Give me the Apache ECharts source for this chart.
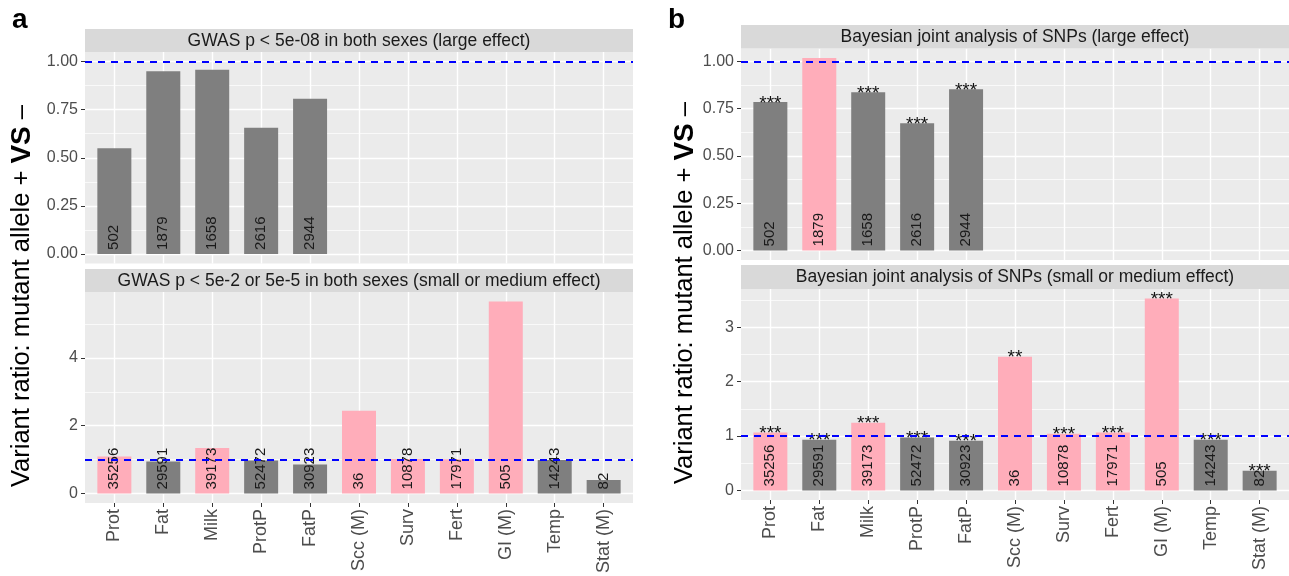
<!DOCTYPE html>
<html><head><meta charset="utf-8">
<script src="https://cdn.jsdelivr.net/npm/echarts@6/dist/echarts.min.js"></script>
<style>html,body{margin:0;padding:0;background:#fff}#c{width:1289px;height:576px}</style>
</head><body><div id="c"></div>
<script>
// ---------------- data ----------------
const categories = ['Prot','Fat','Milk','ProtP','FatP','Scc (M)','Surv','Fert','GI (M)','Temp','Stat (M)'];
const gwasLargeRatio = [0.549, 0.950, 0.958, 0.656, 0.807];
const gwasLargeCount = [502, 1879, 1658, 2616, 2944];
const gwasSmallRatio = [1.09, 0.94, 1.34, 0.97, 0.855, 2.44, 1.02, 1.01, 5.67, 0.99, 0.40];
const gwasSmallCount = [35256, 29591, 39173, 52472, 30923, 36, 10878, 17971, 505, 14243, 82];
const bayesLargeRatio = [0.785, 1.018, 0.837, 0.673, 0.853];
const bayesLargeCount = [502, 1879, 1658, 2616, 2944];
const bayesLargeStars = ['***', '', '***', '***', '***'];
const bayesSmallRatio = [1.067, 0.933, 1.245, 0.975, 0.914, 2.46, 1.043, 1.067, 3.53, 0.933, 0.362];
const bayesSmallCount = [35256, 29591, 39173, 52472, 30923, 36, 10878, 17971, 505, 14243, 82];
const bayesSmallStars = ['***','***','***','***','***','**','***','***','***','***','***'];
const largeTicks = [0, 0.25, 0.5, 0.75, 1];
const largeTickLabels = ['0.00', '0.25', '0.50', '0.75', '1.00'];
const largeMinor = [0.125, 0.375, 0.625, 0.875];
const gwasSmallTicks = [0, 2, 4];
const gwasSmallTickLabels = ['0', '2', '4'];
const gwasSmallMinor = [1, 3, 5];
const bayesSmallTicks = [0, 1, 2, 3];
const bayesSmallTickLabels = ['0', '1', '2', '3'];
const bayesSmallMinor = [0.5, 1.5, 2.5, 3.5];
const panelTitles = [
  'GWAS p < 5e-08 in both sexes (large effect)',
  'GWAS p < 5e-2 or 5e-5 in both sexes (small or medium effect)',
  'Bayesian joint analysis of SNPs (large effect)',
  'Bayesian joint analysis of SNPs (small or medium effect)'
];
const yTitleMain = 'Variant ratio: mutant allele + ';
const yTitleBold = 'VS';
const yTitleEnd = ' –';
const refRatio = 1;

// ---------------- styling / layout ----------------
const FONT = '"Liberation Sans", Arial, Helvetica, sans-serif';
const PINK = '#FFADBA', GRAY = '#7F7F7F';
const PANEL_W = 548;
const panels = [
  {left: 85,  top: 52,   h: 211.5, stripTop: 29,  stripH: 23,   ratio: gwasLargeRatio,  count: gwasLargeCount,  stars: null,            ticks: largeTicks,      tickLabels: largeTickLabels,      minor: largeMinor,      bottom: false},
  {left: 85,  top: 292,  h: 211.5, stripTop: 269, stripH: 23,   ratio: gwasSmallRatio,  count: gwasSmallCount,  stars: null,            ticks: gwasSmallTicks,  tickLabels: gwasSmallTickLabels,  minor: gwasSmallMinor,  bottom: true},
  {left: 741, top: 48.5, h: 211.5, stripTop: 25,  stripH: 23.5, ratio: bayesLargeRatio, count: bayesLargeCount, stars: bayesLargeStars, ticks: largeTicks,      tickLabels: largeTickLabels,      minor: largeMinor,      bottom: false},
  {left: 741, top: 289,  h: 211,   stripTop: 265, stripH: 24,   ratio: bayesSmallRatio, count: bayesSmallCount, stars: bayesSmallStars, ticks: bayesSmallTicks, tickLabels: bayesSmallTickLabels, minor: bayesSmallMinor, bottom: true}
];
const catIdx = categories.map((c, i) => i);

const grid = [], xAxis = [], yAxis = [], series = [], graphic = [];
panels.forEach((p, i) => {
  const top = Math.max(Math.max(...p.ratio), refRatio);
  const yMin = -0.05 * top, yMax = 1.05 * top;
  grid.push({left: p.left, top: p.top, width: PANEL_W, height: p.h, show: true,
    backgroundColor: '#EBEBEB', borderWidth: 0});
  xAxis.push({type: 'value', gridIndex: i, min: -0.6, max: categories.length - 0.4, position: 'bottom',
    axisLine: {show: false, onZero: false},
    axisTick: {show: p.bottom, customValues: catIdx, length: 4, lineStyle: {color: '#333333', width: 1}},
    axisLabel: {show: p.bottom, customValues: catIdx, rotate: 90, margin: 6,
      formatter: v => categories[Math.round(v)], fontSize: 18, color: '#4D4D4D', fontFamily: FONT},
    splitLine: {show: true, lineStyle: {color: '#FFFFFF', width: 1.4}}
  });
  yAxis.push({type: 'value', gridIndex: i, min: yMin, max: yMax, position: 'left',
    axisLine: {show: false, onZero: false},
    axisTick: {show: true, customValues: p.ticks, length: 4, lineStyle: {color: '#333333', width: 1}},
    axisLabel: {customValues: p.ticks, margin: 7, fontSize: 16, color: '#4D4D4D', fontFamily: FONT,
      formatter: v => { const k = p.ticks.findIndex(t => Math.abs(t - v) < 1e-9); return k >= 0 ? p.tickLabels[k] : ''; }},
    splitLine: {show: true, lineStyle: {color: '#FFFFFF', width: 1.4}}
  });
  yAxis.push({type: 'value', gridIndex: i, min: yMin, max: yMax, position: 'left',
    axisLine: {show: false, onZero: false},
    axisTick: {show: false, customValues: p.minor},
    axisLabel: {show: false},
    splitLine: {show: true, lineStyle: {color: '#FFFFFF', width: 0.7}}
  });
  const barData = p.ratio.map((v, k) => ({value: [k, v], itemStyle: {color: v > refRatio ? PINK : GRAY}}));
  series.push({type: 'bar', xAxisIndex: i, yAxisIndex: 2 * i, data: barData,
    barWidth: 34, barGap: '-100%', z: 2,
    label: {show: true, position: 'insideBottom', rotate: 90, align: 'left', verticalAlign: 'middle',
      distance: 3, offset: [1, 0], fontSize: 15, color: '#1A1A1A', fontFamily: FONT,
      formatter: q => String(p.count[q.dataIndex])},
    markLine: {silent: true, symbol: ['none', 'none'], label: {show: false},
      lineStyle: {color: '#0000FF', type: [7, 6], width: 2}, data: [{yAxis: refRatio}]}
  });
  if (p.stars) {
    series.push({type: 'bar', xAxisIndex: i, yAxisIndex: 2 * i, silent: true, z: 3,
      data: p.ratio.map((v, k) => [k, v]), barWidth: 34, barGap: '-100%',
      itemStyle: {color: 'rgba(0,0,0,0)'},
      label: {show: true, position: 'top', distance: -11, fontSize: 19, color: '#111111', fontFamily: FONT,
        formatter: q => p.stars[q.dataIndex]}
    });
  }
  // facet strip
  graphic.push({type: 'rect', shape: {x: p.left, y: p.stripTop, width: PANEL_W, height: p.stripH},
    style: {fill: '#D9D9D9'}, z: 1});
  graphic.push({type: 'text', x: p.left + PANEL_W / 2, y: p.stripTop + p.stripH / 2 + 0.5, z: 2,
    style: {text: panelTitles[i], fill: '#1A1A1A', fontSize: 17.5, fontFamily: FONT,
      align: 'center', verticalAlign: 'middle', textAlign: 'center', textVerticalAlign: 'middle'}});
});

// y titles and panel letters
[[22, 296], [685, 293]].forEach(([x, y]) => {
  graphic.push({type: 'text', x: x, y: y, rotation: Math.PI / 2, z: 2,
    style: {text: '{n|' + yTitleMain + '}{b|' + yTitleBold + '}{n|' + yTitleEnd + '}',
      align: 'center', verticalAlign: 'middle', textAlign: 'center', textVerticalAlign: 'middle',
      rich: {n: {fontSize: 25.5, fontFamily: FONT, fill: '#000000', color: '#000000'},
             b: {fontSize: 28, fontWeight: 'bold', fontFamily: FONT, fill: '#000000', color: '#000000'}}}});
});
[['a', 12, 6], ['b', 668, 6]].forEach(([t, x, y]) => {
  graphic.push({type: 'text', x: x, y: y, z: 2,
    style: {text: t, fontSize: 28, fontWeight: 'bold', fontFamily: FONT, fill: '#000000'}});
});

const chart = echarts.init(document.getElementById('c'), null, {renderer: 'canvas'});
chart.setOption({animation: false, backgroundColor: '#FFFFFF', grid, xAxis, yAxis, series, graphic});
</script></body></html>
